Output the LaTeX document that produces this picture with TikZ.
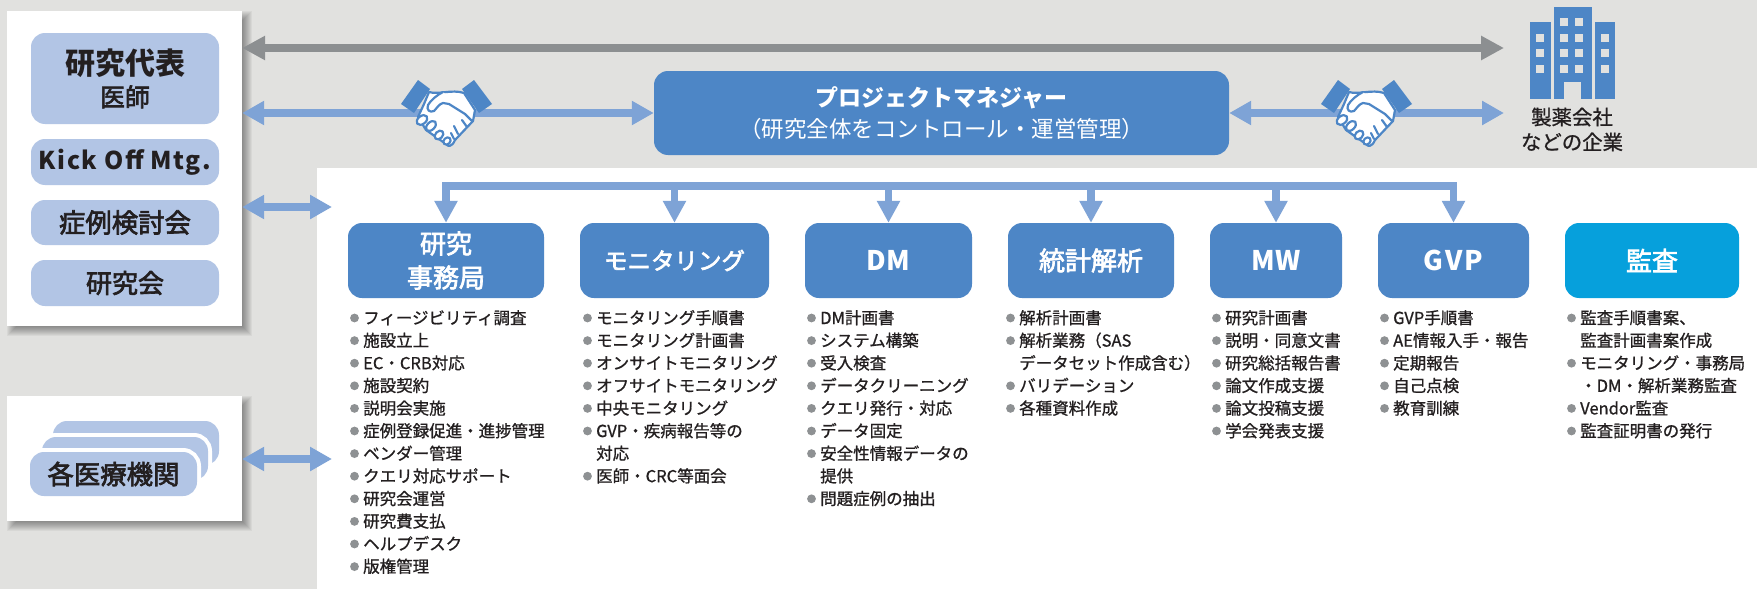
\documentclass[tikz,border=0pt]{standalone}
\usepackage{fontspec}
\usetikzlibrary{arrows.meta,calc}
\setmainfont{Noto Sans CJK JP}
\newfontfamily\medf[FakeBold=0.9]{Noto Sans CJK JP}
\newfontfamily\titf[FakeBold=2.6]{Noto Sans CJK JP}
\definecolor{bgc}{HTML}{E1E1DF}
\definecolor{pale}{HTML}{B2C5E5}
\definecolor{mainb}{HTML}{4D86C6}
\definecolor{audit}{HTML}{06A0DC}
\definecolor{arrowb}{HTML}{7EA3D6}
\definecolor{arrowg}{HTML}{8C8F91}
\definecolor{bul}{HTML}{8E9193}
\definecolor{ink}{HTML}{231F20}
\tikzset{
  x=1pt,y=-1pt,
  rb/.style={rectangle,rounded corners=14pt,inner sep=0pt,align=center},
  palebox/.style={rb,fill=pale,text=ink},
  bluebox/.style={rb,fill=mainb,text=white},
  stackbox/.style={rb,fill=pale,text=ink,preaction={draw=white,line width=8pt}},
  panel/.style={rectangle,fill=white,inner sep=0pt},
  listtext/.style={anchor=base west,inner sep=0pt,text=ink,font=\medf\fontsize{16.5}{20}\selectfont},
  bluearrow/.style={draw=arrowb,line width=7.5pt,{Triangle[length=22pt,width=23pt]}-{Triangle[length=22pt,width=23pt]}},
  grayarrow/.style={draw=arrowg,line width=7.5pt,{Triangle[length=23pt,width=23pt]}-{Triangle[length=23pt,width=23pt]}},
  drop/.style={draw=arrowb,line width=7.5pt,-{Triangle[length=22pt,width=22pt]}},
  busline/.style={draw=arrowb,line width=7.5pt,line cap=rect},
  handline/.style={draw=mainb,line width=2.2pt,line join=round,line cap=round},
}
\newcommand\rbox[7][]{%
  \pgfmathsetmacro\rw{#5-#3}\pgfmathsetmacro\rh{#6-#4}%
  \pgfmathsetmacro\rx{(#5+#3)/2}\pgfmathsetmacro\ry{(#6+#4)/2}%
  \node[#1,minimum width=\rw pt,minimum height=\rh pt] (#2) at (\rx,\ry) {#7};}
\newcommand\softshadow[4]{%
  \foreach \g in {-4,-3,...,5}{
    \fill[black,opacity=.045] (#1+5-\g,#2+5-\g) rectangle (#3+5+\g,#4+5+\g);}}
\newcommand\itemrow[3]{%
  \pgfmathsetmacro\ly{318+22.6*#2}%
  \fill[bul] (#1-8.5,\ly) circle (4.4);
  \node[listtext] (i#1-#2) at (#1,\ly+6) {#3};}
\newcommand\controw[3]{%
  \pgfmathsetmacro\ly{318+22.6*#2}%
  \node[listtext] (i#1-#2) at (#1,\ly+6) {#3};}
\newcommand\handshake[2]{%
  \begin{scope}[shift={(#1,#2)}]
    \filldraw[handline,fill=white] (-17,-21) .. controls (-8,-18) and (6,-24) .. (18,-20)
      -- (29,-3) -- (27,8) -- (9,27) .. controls (6,34) and (2,34) .. (0,31)
      -- (-20,17) -- (-28,4) -- (-22,-9) -- cycle;
    \filldraw[handline,fill=white,rotate around={38:(-24,7)}] (-24,7) ellipse (6 and 4);
    \filldraw[handline,fill=white,rotate around={45:(-15,13)}] (-15,13) ellipse (6 and 3.8);
    \filldraw[handline,fill=white,rotate around={45:(-7,22)}] (-7,22) ellipse (5 and 3.6);
    \filldraw[handline,fill=white,rotate around={45:(1,28)}] (1,28) ellipse (4 and 3.2);
    \filldraw[handline,fill=white] (-3,-21) .. controls (-9,-18) and (-15,-13) .. (-18,-8)
      .. controls (-20,-3) and (-16,0) .. (-12,-2) .. controls (-9,-5) and (-7,-9) .. (-3,-10)
      -- (3,-9) -- (19,1);
    \draw[handline] (19,1) -- (26,8);
    \draw[handline] (8,13) -- (12,21);
    \draw[handline] (16,7) -- (21,14);
    \draw[handline] (5,20) -- (8,26);
    \fill[mainb] (-28,-33) -- (-45,-9) -- (-32,0) -- (-16,-24) -- cycle;
    \fill[mainb] (28,-33) -- (46,-9) -- (33,0) -- (16,-24) -- cycle;
  \end{scope}}
\begin{document}
\begin{tikzpicture}
\useasboundingbox (0,0) rectangle (1757,589);
\fill[bgc] (0,0) rectangle (1757,589);
% white panels
\rbox[panel]{work}{317}{168}{1757}{589}{}
\softshadow{7}{11}{242}{326}
\rbox[panel]{lead}{7}{11}{242}{326}{}
\softshadow{7}{396}{242}{521}
\rbox[panel]{sites}{7}{396}{242}{521}{}
% lead boxes
\rbox[palebox]{rep}{31}{33}{219}{124}{{\bfseries\fontsize{30}{36}\selectfont 研究代表}\\[7pt]{\titf\fontsize{25}{30}\selectfont 医師}}
\rbox[palebox,font=\bfseries\fontsize{24.5}{28}\selectfont\addfontfeature{LetterSpace=6}]{kick}{31}{139}{219}{185}{Kick Off Mtg.}
\rbox[palebox,font=\titf\fontsize{26.4}{30}\selectfont]{case}{31}{200}{219}{245}{症例検討会}
\rbox[palebox,font=\titf\fontsize{26}{30}\selectfont]{study}{31}{260}{219}{306}{研究会}
% stacked boxes
\rbox[stackbox]{sback}{53}{421}{219}{465}{}
\rbox[stackbox]{smid}{42}{437}{208}{480}{}
\rbox[stackbox,font=\titf\fontsize{26.4}{30}\selectfont]{sfront}{30}{452}{197}{496}{各医療機関}
% PM and company
\rbox[bluebox]{pm}{654}{71}{1229}{155}{{\bfseries\fontsize{23}{30}\selectfont プロジェクトマネジャー}\\[8pt]{\fontsize{22.5}{28}\selectfont （研究全体をコントロール・運営管理）}}
\node[inner sep=0pt,align=center,text=ink,font=\medf\fontsize{20.4}{25}\selectfont] (corp) at (1572,129.5) {製薬会社\\などの企業};
% building
\fill[mainb] (1530,22) rectangle (1551,99);
\fill[mainb] (1595,22) rectangle (1615,99);
\fill[mainb] (1554,7) rectangle (1592,99);
\foreach \wx in {1564.3,1579}{\foreach \wy in {22.3,37.7,53.3,68.7}{\fill[bgc] (\wx-4,\wy-4) rectangle (\wx+4,\wy+4);}}
\foreach \wx in {1540.3,1605}{\foreach \wy in {37.7,53.3,68.7}{\fill[bgc] (\wx-4,\wy-4) rectangle (\wx+4,\wy+4);}}
\fill[bgc] (1564.3,81.7) rectangle (1581,99);
% connectors of top section
\coordinate (corpTop) at (1504,48);
\coordinate (corpMid) at (1504,113);
\draw[grayarrow] (lead.east |- corpTop) -- (corpTop);
\draw[bluearrow] (lead.east |- pm.west) -- (pm.west);
\draw[bluearrow] (pm.east) -- (corpMid);
\handshake{446}{113}
\handshake{1366}{113}
\coordinate (midTip) at (332,207);
\coordinate (lowTip) at (332,459);
\draw[bluearrow] (lead.east |- midTip) -- (midTip);
\draw[bluearrow] (sites.east |- lowTip) -- (lowTip);
% department boxes
\rbox[bluebox,font=\titf\fontsize{26}{34}\selectfont]{d1}{348}{223}{544}{298}{研究\\事務局}
\rbox[bluebox,font=\titf\fontsize{23.5}{30}\selectfont]{d2}{580}{223}{769}{298}{モニタリング}
\rbox[bluebox,font=\bfseries\fontsize{27}{30}\selectfont\addfontfeature{LetterSpace=3}]{d3}{805}{223}{972}{298}{DM}
\rbox[bluebox,font=\titf\fontsize{26}{30}\selectfont]{d4}{1008}{223}{1174}{298}{統計解析}
\rbox[bluebox,font=\bfseries\fontsize{27}{30}\selectfont\addfontfeature{LetterSpace=2}]{d5}{1210}{223}{1342}{298}{MW}
\rbox[bluebox,font=\bfseries\fontsize{27}{30}\selectfont\addfontfeature{LetterSpace=8}]{d6}{1378}{223}{1529}{298}{GVP}
\rbox[rb,fill=audit,text=white,font=\titf\fontsize{26}{30}\selectfont]{d7}{1565}{223}{1739}{298}{監査}
% bus
\coordinate (busy) at (0,186);
\draw[busline] (d1.north |- busy) -- (d6.north |- busy);
\foreach \d in {d1,d2,d3,d4,d5,d6}{\draw[drop] (\d.north |- busy) -- (\d.north);}
% lists
\itemrow{363}{0}{フィージビリティ調査}
\itemrow{363}{1}{施設立上}
\itemrow{363}{2}{EC・CRB対応}
\itemrow{363}{3}{施設契約}
\itemrow{363}{4}{説明会実施}
\itemrow{363}{5}{症例登録促進・進捗管理}
\itemrow{363}{6}{ベンダー管理}
\itemrow{363}{7}{クエリ対応サポート}
\itemrow{363}{8}{研究会運営}
\itemrow{363}{9}{研究費支払}
\itemrow{363}{10}{ヘルプデスク}
\itemrow{363}{11}{版権管理}
\itemrow{596}{0}{モニタリング手順書}
\itemrow{596}{1}{モニタリング計画書}
\itemrow{596}{2}{オンサイトモニタリング}
\itemrow{596}{3}{オフサイトモニタリング}
\itemrow{596}{4}{中央モニタリング}
\itemrow{596}{5}{GVP・疾病報告等の}
\controw{596}{6}{対応}
\itemrow{596}{7}{医師・CRC等面会}
\itemrow{820}{0}{DM計画書}
\itemrow{820}{1}{システム構築}
\itemrow{820}{2}{受入検査}
\itemrow{820}{3}{データクリーニング}
\itemrow{820}{4}{クエリ発行・対応}
\itemrow{820}{5}{データ固定}
\itemrow{820}{6}{安全性情報データの}
\controw{820}{7}{提供}
\itemrow{820}{8}{問題症例の抽出}
\itemrow{1019}{0}{解析計画書}
\itemrow{1019}{1}{解析業務（SAS}
\controw{1019}{2}{データセット作成含む）}
\itemrow{1019}{3}{バリデーション}
\itemrow{1019}{4}{各種資料作成}
\itemrow{1225}{0}{研究計画書}
\itemrow{1225}{1}{説明・同意文書}
\itemrow{1225}{2}{研究総括報告書}
\itemrow{1225}{3}{論文作成支援}
\itemrow{1225}{4}{論文投稿支援}
\itemrow{1225}{5}{学会発表支援}
\itemrow{1393}{0}{GVP手順書}
\itemrow{1393}{1}{AE情報入手・報告}
\itemrow{1393}{2}{定期報告}
\itemrow{1393}{3}{自己点検}
\itemrow{1393}{4}{教育訓練}
\itemrow{1580}{0}{監査手順書案、}
\controw{1580}{1}{監査計画書案作成}
\itemrow{1580}{2}{モニタリング・事務局}
\controw{1580}{3}{・DM・解析業務監査}
\itemrow{1580}{4}{Vendor監査}
\itemrow{1580}{5}{監査証明書の発行}
\end{tikzpicture}
\end{document}
